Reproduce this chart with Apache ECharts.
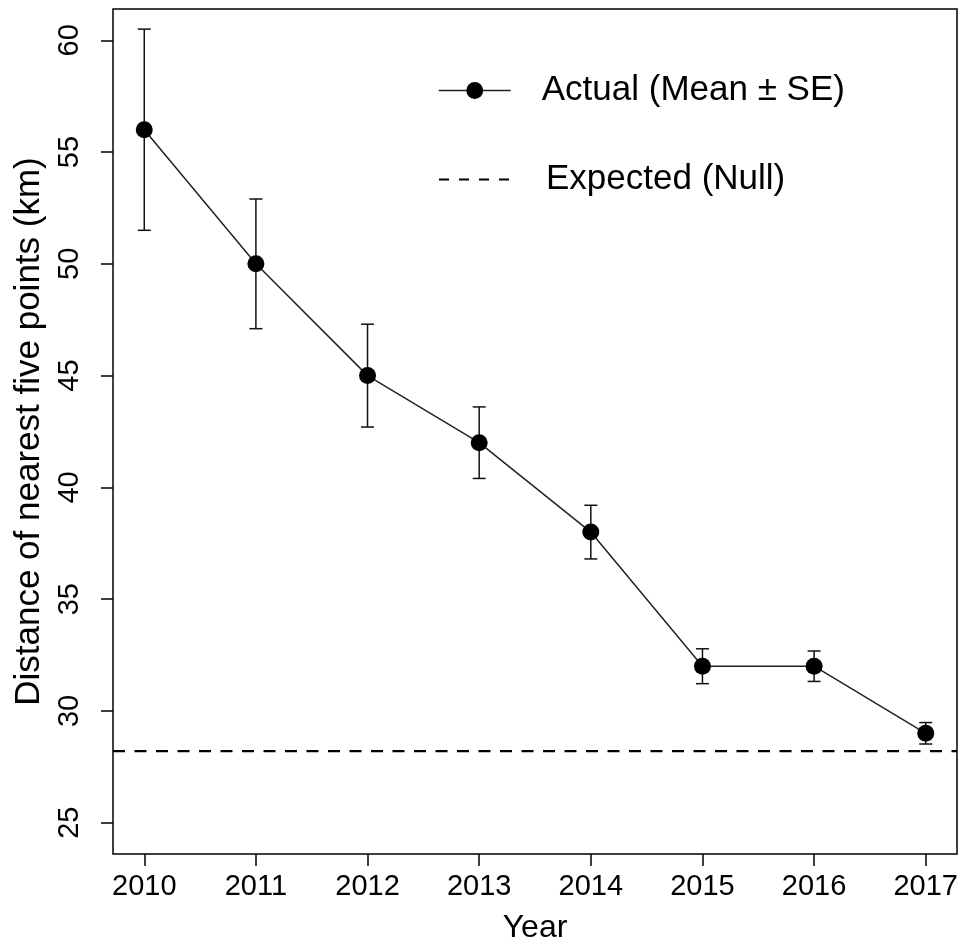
<!DOCTYPE html>
<html>
<head>
<meta charset="utf-8">
<style>
  html, body { margin: 0; padding: 0; background: #fff; }
  #chart { width: 966px; height: 949px; }
</style>
<script src="https://cdn.jsdelivr.net/npm/echarts@6/dist/echarts.min.js"></script>
</head>
<body>
<div id="chart"></div>
<script>
// Yearly mean distance to the nearest five points, with standard errors
const years = [2010, 2011, 2012, 2013, 2014, 2015, 2016, 2017];
const meanKm = [56, 50, 45, 42, 38, 32, 32, 29];
const seKm = [4.5, 2.9, 2.3, 1.6, 1.2, 0.78, 0.68, 0.48];
const expectedKm = 28.2;

const yTicks = [25, 30, 35, 40, 45, 50, 55, 60];
const xTicks = years;

// axis ranges padded 4% beyond the limits (2010–2017, 25–60)
const xMin = 2010 - 0.04 * 7, xMax = 2017 + 0.04 * 7;
const yMin = 25 - 0.04 * 35, yMax = 60 + 0.04 * 35;

const FONT = '"Liberation Sans", Arial, sans-serif';
const actualName = 'Actual (Mean \u00B1 SE)';
const nullName = 'Expected (Null)';

const chart = echarts.init(document.getElementById('chart'), null, { renderer: 'canvas' });

const errData = years.map((y, i) => [y, meanKm[i] - seKm[i], meanKm[i] + seKm[i]]);

chart.setOption({
  animation: false,
  backgroundColor: '#ffffff',
  grid: {
    left: 113, top: 9, right: 9, bottom: 95,
    containLabel: false, outerBoundsMode: 'none',
    show: true, borderColor: '#000', borderWidth: 1.5, backgroundColor: 'transparent'
  },
  legend: [
    {
      data: [actualName],
      left: 433, top: 68,
      itemWidth: 72, itemHeight: 21, itemGap: 0,
      lineStyle: { width: 1.5, color: '#222' },
      textStyle: { fontFamily: FONT, fontSize: 35, color: '#000', padding: [0, 0, 0, 26] },
      selectedMode: false
    },
    {
      data: [nullName],
      left: 433, top: 157,
      itemWidth: 72, itemHeight: 21, itemGap: 0,
      itemStyle: { opacity: 0 },
      lineStyle: { width: 2, color: '#000', type: [10, 10] },
      textStyle: { fontFamily: FONT, fontSize: 35, color: '#000', padding: [0, 0, 0, 30] },
      selectedMode: false
    }
  ],
  xAxis: {
    type: 'value', min: xMin, max: xMax,
    name: 'Year', nameLocation: 'middle', nameGap: 58,
    nameTextStyle: { fontFamily: FONT, fontSize: 32, color: '#000' },
    axisLine: { show: false },
    splitLine: { show: false },
    axisTick: { show: true, length: 12, inside: false, customValues: xTicks,
      lineStyle: { color: '#000', width: 1.5 } },
    axisLabel: { customValues: xTicks, margin: 18, fontFamily: FONT, fontSize: 29, color: '#000',
      formatter: v => String(v) }
  },
  yAxis: {
    type: 'value', min: yMin, max: yMax,
    name: 'Distance of nearest five points (km)', nameLocation: 'middle', nameGap: 64,
    nameTextStyle: { fontFamily: FONT, fontSize: 35, color: '#000' },
    axisLine: { show: false },
    splitLine: { show: false },
    axisTick: { show: true, length: 12, inside: false, customValues: yTicks,
      lineStyle: { color: '#000', width: 1.5 } },
    axisLabel: { customValues: yTicks, rotate: 90, margin: 29, fontFamily: FONT, fontSize: 29, color: '#000',
      formatter: v => String(v) }
  },
  series: [
    {
      name: nullName,
      type: 'line',
      data: [[xMin, expectedKm], [xMax, expectedKm]],
      symbol: 'none',
      lineStyle: { color: '#000', width: 2.2, type: [12, 9.5] },
      itemStyle: { color: '#000' },
      silent: true,
      z: 1
    },
    {
      name: 'se',
      type: 'custom',
      data: errData,
      renderItem: function (params, api) {
        const x = api.value(0);
        const lo = api.coord([x, api.value(1)]);
        const hi = api.coord([x, api.value(2)]);
        const cap = 6.5;
        const style = { stroke: '#111', lineWidth: 1.5 };
        return {
          type: 'group',
          children: [
            { type: 'line', shape: { x1: hi[0], y1: hi[1], x2: lo[0], y2: lo[1] }, style },
            { type: 'line', shape: { x1: hi[0] - cap, y1: hi[1], x2: hi[0] + cap, y2: hi[1] }, style },
            { type: 'line', shape: { x1: lo[0] - cap, y1: lo[1], x2: lo[0] + cap, y2: lo[1] }, style }
          ]
        };
      },
      silent: true,
      z: 2
    },
    {
      name: actualName,
      type: 'line',
      data: years.map((y, i) => [y, meanKm[i]]),
      symbol: 'circle', symbolSize: 17,
      lineStyle: { color: '#222', width: 1.5 },
      itemStyle: { color: '#000' },
      silent: true,
      z: 3
    }
  ]
});
</script>
</body>
</html>
